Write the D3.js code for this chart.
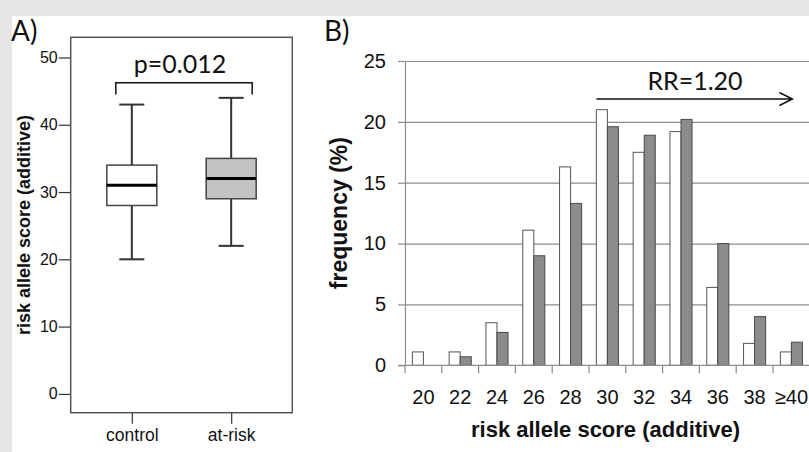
<!DOCTYPE html>
<html>
<head>
<meta charset="utf-8">
<script src="https://cdn.jsdelivr.net/npm/d3@7"></script>
<style>
  body { margin: 0; background: #e5e6e8; }
  svg { display: block; }
  text { font-family: 'Liberation Sans', Arial, sans-serif; fill: #111; }
</style>
</head>
<body>
<svg id="chart" width="809" height="452"></svg>
<script>
// Panel A: box plot summary per group
const groups = ['control', 'at-risk'];
const boxMin = [20, 22];
const boxQ1 = [28, 29];
const boxMedian = [31, 32];
const boxQ3 = [34, 35];
const boxMax = [43, 44];
const scoreTicks = [0, 10, 20, 30, 40, 50];

// Panel B: frequency distribution of the score
const scoreBins = ['20', '22', '24', '26', '28', '30', '32', '34', '36', '38', '≥40'];
const controlFreq = [1.1, 1.1, 3.5, 11.1, 16.3, 21.0, 17.5, 19.2, 6.4, 1.8, 1.1];
const atRiskFreq = [0, 0.7, 2.7, 9.0, 13.3, 19.6, 18.9, 20.2, 10.0, 4.0, 1.9];
const freqTicks = [0, 5, 10, 15, 20, 25];

const svg = d3.select('#chart');

// White canvas, with the grey border showing top and left
svg.append('rect')
  .attr('x', 12).attr('y', 16)
  .attr('width', 797).attr('height', 436)
  .attr('fill', '#fff');

/* ---------- Panel A ---------- */
const frameA = { left: 70.7, right: 292.3, top: 37.3, bottom: 412.7 };

const yA = d3.scaleLinear()
  .domain([-2.8, 53])
  .range([frameA.bottom, frameA.top]);

const xA = d3.scalePoint()
  .domain(groups)
  .range([frameA.left, frameA.right])
  .padding(0.615);

// Y axis, ticks pointing outwards
const yAxisA = svg.append('g')
  .attr('transform', `translate(${frameA.left},0)`)
  .call(d3.axisLeft(yA).tickValues(scoreTicks).tickSize(12).tickPadding(1));
yAxisA.select('.domain').remove();
yAxisA.selectAll('line').attr('stroke', '#333').attr('stroke-width', 1.2);
yAxisA.selectAll('text').style('font-size', '16px').attr('fill', '#222');

// X axis
const xAxisA = svg.append('g')
  .attr('transform', `translate(0,${frameA.bottom})`)
  .call(d3.axisBottom(xA).tickSize(11).tickPadding(5));
xAxisA.select('.domain').remove();
xAxisA.selectAll('line').attr('stroke', '#333').attr('stroke-width', 1.2);
xAxisA.selectAll('text').style('font-size', '17.5px').attr('fill', '#222');

// Frame
svg.append('rect')
  .attr('x', frameA.left).attr('y', frameA.top)
  .attr('width', frameA.right - frameA.left)
  .attr('height', frameA.bottom - frameA.top)
  .attr('fill', 'none')
  .attr('stroke', '#555')
  .attr('stroke-width', 1.5);

// Boxes
const boxW = 50;
const capW = 25;
const boxFill = ['#ffffff', '#c3c3c3'];

const boxes = svg.append('g').selectAll('g')
  .data(groups)
  .enter().append('g');

boxes.append('line')
  .attr('x1', d => xA(d)).attr('x2', d => xA(d))
  .attr('y1', (d, i) => yA(boxMax[i]))
  .attr('y2', (d, i) => yA(boxMin[i]))
  .attr('stroke', '#333').attr('stroke-width', 2);

[boxMax, boxMin].forEach((arr) => {
  boxes.append('line')
    .attr('x1', d => xA(d) - capW / 2).attr('x2', d => xA(d) + capW / 2)
    .attr('y1', (d, i) => yA(arr[i])).attr('y2', (d, i) => yA(arr[i]))
    .attr('stroke', '#333').attr('stroke-width', 2);
});

boxes.append('rect')
  .attr('x', d => xA(d) - boxW / 2)
  .attr('y', (d, i) => yA(boxQ3[i]))
  .attr('width', boxW)
  .attr('height', (d, i) => yA(boxQ1[i]) - yA(boxQ3[i]))
  .attr('fill', (d, i) => boxFill[i])
  .attr('stroke', '#444').attr('stroke-width', 1.5);

boxes.append('line')
  .attr('x1', d => xA(d) - boxW / 2).attr('x2', d => xA(d) + boxW / 2)
  .attr('y1', (d, i) => yA(boxMedian[i])).attr('y2', (d, i) => yA(boxMedian[i]))
  .attr('stroke', '#000').attr('stroke-width', 3);

// Significance bracket
const bl = xA(groups[0]) - 16;
const br = xA(groups[1]) + 21;
svg.append('path')
  .attr('d', `M${bl},${yA(44.5)}V${yA(46.25)}H${br}V${yA(44.5)}`)
  .attr('fill', 'none')
  .attr('stroke', '#111')
  .attr('stroke-width', 1.5);

svg.append('text')
  .attr('x', 180).attr('y', 72.7)
  .attr('text-anchor', 'middle')
  .style('font-family', 'Lato, sans-serif')
  .style('font-size', '25px')
  .text('p=0.012');

// Y axis label
svg.append('text')
  .attr('transform', `translate(30,${(frameA.top + frameA.bottom) / 2})rotate(-90)`)
  .attr('text-anchor', 'middle')
  .style('font-size', '18px')
  .style('font-weight', 'bold')
  .text('risk allele score (additive)');

// Panel letter
svg.append('text')
  .attr('x', 11).attr('y', 40.7)
  .style('font-family', 'Lato, sans-serif')
  .style('font-size', '28px')
  .text('A)');

/* ---------- Panel B ---------- */
const plotB = { left: 405, right: 809.8, top: 61, bottom: 365.3 };

const xB = d3.scaleBand()
  .domain(scoreBins)
  .range([plotB.left, plotB.right])
  .paddingInner(0.4)
  .paddingOuter(0.2);

const xSub = d3.scaleBand()
  .domain(['control', 'at-risk'])
  .range([0, xB.bandwidth()]);

const yB = d3.scaleLinear()
  .domain([0, 25])
  .range([plotB.bottom, plotB.top]);

// Gridlines
const gridB = svg.append('g')
  .attr('transform', `translate(${plotB.left},0)`)
  .call(d3.axisLeft(yB).tickValues(freqTicks.slice(1)).tickFormat('')
    .tickSizeInner(-(809 - plotB.left)).tickSizeOuter(0));
gridB.select('.domain').remove();
gridB.selectAll('line').attr('stroke', '#8c8c8c').attr('stroke-width', 1.2);

// Y axis
const yAxisB = svg.append('g')
  .attr('transform', `translate(${plotB.left},0)`)
  .call(d3.axisLeft(yB).tickValues(freqTicks).tickSize(7).tickSizeOuter(0).tickPadding(12));
yAxisB.select('.domain').attr('stroke', '#8c8c8c').attr('stroke-width', 1.2);
yAxisB.selectAll('line').attr('stroke', '#8c8c8c').attr('stroke-width', 1.2);
yAxisB.selectAll('text').style('font-size', '20px');

// Bars
const binGroups = svg.append('g').selectAll('g')
  .data(scoreBins)
  .enter().append('g')
  .attr('transform', d => `translate(${xB(d)},0)`);

binGroups.append('rect')
  .attr('x', xSub('control'))
  .attr('y', (d, i) => yB(controlFreq[i]))
  .attr('width', xSub.bandwidth())
  .attr('height', (d, i) => yB(0) - yB(controlFreq[i]))
  .attr('fill', '#fff')
  .attr('stroke', '#555')
  .attr('stroke-width', 1);

binGroups.append('rect')
  .attr('x', xSub('at-risk'))
  .attr('y', (d, i) => yB(atRiskFreq[i]))
  .attr('width', xSub.bandwidth())
  .attr('height', (d, i) => yB(0) - yB(atRiskFreq[i]))
  .attr('fill', '#8c8c8c')
  .attr('stroke', '#4a4a4a')
  .attr('stroke-width', 1);

// X axis: baseline, boundary ticks and category labels
svg.append('line')
  .attr('x1', plotB.left - 6).attr('x2', 809)
  .attr('y1', yB(0)).attr('y2', yB(0))
  .attr('stroke', '#8c8c8c').attr('stroke-width', 1.2);

svg.append('g').selectAll('line')
  .data(d3.range(scoreBins.length + 1))
  .enter().append('line')
  .attr('x1', i => plotB.left + i * xB.step())
  .attr('x2', i => plotB.left + i * xB.step())
  .attr('y1', yB(0)).attr('y2', yB(0) + 8)
  .attr('stroke', '#8c8c8c').attr('stroke-width', 1.2);

const xAxisB = svg.append('g')
  .attr('transform', `translate(0,${yB(0)})`)
  .call(d3.axisBottom(xB).tickSize(0).tickPadding(25));
xAxisB.select('.domain').remove();
xAxisB.selectAll('text').style('font-size', '20px');

svg.append('text')
  .attr('x', 605.5).attr('y', 437)
  .attr('text-anchor', 'middle')
  .style('font-size', '22px')
  .style('font-weight', 'bold')
  .text('risk allele score (additive)');

svg.append('text')
  .attr('transform', `translate(347,${(plotB.top + plotB.bottom) / 2})rotate(-90)`)
  .attr('text-anchor', 'middle')
  .style('font-size', '23px')
  .style('font-weight', 'bold')
  .text('frequency (%)');

// Relative risk annotation arrow
const ax0 = xB('30');
const ax1 = xB('≥40') + xB.bandwidth() / 2 + 1;
const ay = 99;
svg.append('path')
  .attr('d', `M${ax0},${ay}H${ax1}M${ax1 - 13},${ay - 6.5}L${ax1},${ay}L${ax1 - 13},${ay + 6.5}`)
  .attr('fill', 'none')
  .attr('stroke', '#111')
  .attr('stroke-width', 1.5);

svg.append('text')
  .attr('x', 695).attr('y', 90)
  .attr('text-anchor', 'middle')
  .style('font-family', 'Lato, sans-serif')
  .style('font-size', '25px')
  .text('RR=1.20');

svg.append('text')
  .attr('x', 324).attr('y', 40.7)
  .style('font-family', 'Lato, sans-serif')
  .style('font-size', '28px')
  .text('B)');
</script>
</body>
</html>
